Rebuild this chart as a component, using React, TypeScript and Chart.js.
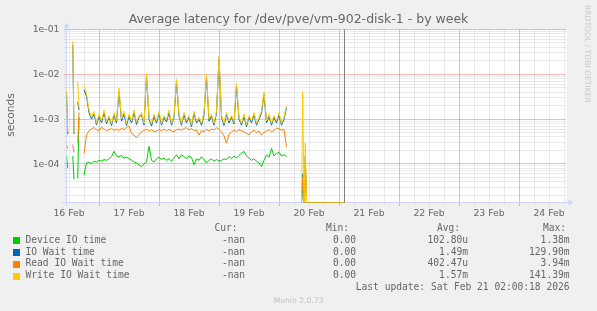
import { useEffect, useRef } from "react";
import { Chart, registerables } from "chart.js";
Chart.register(...registerables);

// ---------- text ----------
const TITLE = "Average latency for /dev/pve/vm-902-disk-1 - by week";
const Y_LABEL = "seconds";
const DAY_LABELS = ["16 Feb", "17 Feb", "18 Feb", "19 Feb", "20 Feb", "21 Feb", "22 Feb", "23 Feb", "24 Feb"];
const Y_TICK_LABELS = ["1e-01", "1e-02", "1e-03", "1e-04"];
const SERIES_NAMES = ["Device IO time", "IO Wait time", "Read IO Wait time", "Write IO Wait time"];
const SERIES_COLORS = ["#00CC00", "#0066B3", "#FF8000", "#FFCC00"];
const LEGEND_HEADERS = ["Cur:", "Min:", "Avg:", "Max:"];
const CUR_VALUES = ["-nan", "-nan", "-nan", "-nan"];
const MIN_VALUES = ["0.00", "0.00", "0.00", "0.00"];
const AVG_VALUES = ["102.80u", "1.49m", "402.47u", "1.57m"];
const MAX_VALUES = ["1.38m", "129.90m", "3.94m", "141.39m"];
const LAST_UPDATE = "Last update: Sat Feb 21 02:00:18 2026";
const VERSION = "Munin 2.0.73";
const WATERMARK = "RRDTOOL / TOBI OETIKER";

// ---------- axes (hours since 16 Feb 00:00) ----------
const Y_MIN = 1.374e-5;
const Y_MAX = 0.1;
const X_MIN_H = 11;
const X_MAX_H = 211;
const NOW_H = 122.3;

// ---------- data ----------
const EARLY_HOURS = [11, 11.5, 12, 13.5, 14, 14.5, 15.5, 16, 16.5];
const EARLY_DEVICE = [1.5e-4, 8e-5, null, 1.5e-4, 4.5e-5, null, 4.7e-5, 1.1e-3, null];
const EARLY_IOWAIT = [3.8e-3, 4.6e-4, null, 4.6e-2, 4.6e-4, null, 2.4e-3, 1.6e-3, null];
const EARLY_READ = [2.6e-4, 2.2e-4, null, 2.7e-4, 1.8e-4, null, 3.0e-4, 1.4e-3, null];
const EARLY_WRITE = [4.5e-3, 5e-4, null, 5.5e-2, 5e-4, null, 7e-3, 1.8e-3, null];

const MAIN_START_H = 18;
const MAIN_STEP_H = 1;
const MAIN_DEVICE = [
  5.6e-5, 1.05e-4, 1.1e-4, 1.0e-4, 1.15e-4, 1.1e-4, 1.2e-4, 1.15e-4, 1.25e-4, 1.2e-4,
  1.3e-4, 1.45e-4, 1.9e-4, 1.5e-4, 1.45e-4, 1.55e-4, 1.35e-4, 1.4e-4, 1.3e-4, 1.2e-4,
  1.1e-4, 1.05e-4, 9.5e-5, 8.7e-5, 1.0e-4, 1.1e-4, 2.45e-4, 1.2e-4, 1.1e-4, 1.3e-4,
  1.4e-4, 1.25e-4, 1.35e-4, 1.2e-4, 1.3e-4, 1.15e-4, 1.35e-4, 1.6e-4, 1.3e-4, 1.6e-4,
  1.45e-4, 1.3e-4, 1.5e-4, 1.4e-4, 9.5e-5, 1.3e-4, 1.2e-4, 1.45e-4, 1.25e-4, 1.05e-4,
  1.2e-4, 1.3e-4, 1.15e-4, 1.25e-4, 1.15e-4, 1.2e-4, 1.3e-4, 1.25e-4, 1.45e-4, 1.3e-4,
  1.5e-4, 1.35e-4, 1.55e-4, 1.75e-4, 1.9e-4, 1.5e-4, 1.35e-4, 1.2e-4, 1.3e-4, 1.15e-4,
  1.05e-4, 8.7e-5, 1.2e-4, 1.6e-4, 1.4e-4, 2.2e-4, 1.5e-4, 1.7e-4, 1.8e-4, 1.5e-4,
  1.6e-4, 1.45e-4,
];
const MAIN_IOWAIT = [
  4.5e-3, 3.2e-3, 1.4e-3, 1.0e-3, 1.3e-3, 7.4e-4, 1.15e-3, 8.2e-4, 1.4e-3, 7.8e-4,
  1.1e-3, 7.2e-4, 1.25e-3, 8.2e-4, 4.2e-3, 9.0e-4, 1.3e-3, 7.2e-4, 1.15e-3, 8.2e-4,
  1.4e-3, 7.6e-4, 1.1e-3, 1.25e-3, 7.4e-4, 9.2e-3, 1.0e-3, 7.0e-4, 1.15e-3, 8.2e-4,
  1.35e-3, 7.3e-4, 1.1e-3, 8.6e-4, 1.4e-3, 7.3e-4, 1.1e-3, 6.8e-3, 1.15e-3, 7.3e-4,
  1.25e-3, 8.2e-4, 1.1e-3, 6.8e-4, 1.35e-3, 8.2e-4, 9.8e-4, 7.3e-4, 1.25e-3, 8.9e-3,
  9.0e-4, 1.15e-3, 7.3e-4, 1.35e-3, 2.2e-2, 1.1e-3, 7.2e-4, 1.25e-3, 8.2e-4, 1.1e-3,
  7.8e-4, 5.6e-3, 1.0e-3, 7.3e-4, 1.15e-3, 6.8e-4, 1.1e-3, 8.2e-4, 1.25e-3, 7.3e-4,
  1.0e-3, 1.35e-3, 3.6e-3, 8.2e-4, 1.15e-3, 7.3e-4, 1.1e-3, 8.2e-4, 1.25e-3, 7.3e-4,
  1.0e-3, 1.8e-3,
];
const MAIN_READ = [
  1.7e-4, 4.4e-4, 5.5e-4, 6.0e-4, 6.5e-4, 5.8e-4, 5.5e-4, 6.6e-4, 6.0e-4, 5.5e-4,
  5.8e-4, 6.2e-4, 5.6e-4, 6.0e-4, 5.5e-4, 6.3e-4, 5.8e-4, 6.5e-4, 7.0e-4, 4.8e-4,
  4.4e-4, 3.8e-4, 4.5e-4, 5.2e-4, 5.6e-4, 6.0e-4, 5.4e-4, 5.8e-4, 5.2e-4, 5.3e-4,
  5.8e-4, 5.5e-4, 6.0e-4, 5.4e-4, 5.9e-4, 5.5e-4, 5.2e-4, 5.8e-4, 6.0e-4, 5.6e-4,
  6.2e-4, 6.4e-4, 5.8e-4, 6.1e-4, 5.5e-4, 5.7e-4, 4.4e-4, 5.5e-4, 5.2e-4, 5.9e-4,
  5.4e-4, 6.0e-4, 5.7e-4, 6.4e-4, 5.9e-4, 5.2e-4, 4.2e-4, 2.9e-4, 4.6e-4, 5.2e-4,
  5.6e-4, 5.3e-4, 5.8e-4, 5.5e-4, 5.2e-4, 4.8e-4, 4.4e-4, 5.2e-4, 5.6e-4, 5.0e-4,
  5.4e-4, 4.4e-4, 5.0e-4, 5.4e-4, 5.8e-4, 5.2e-4, 5.6e-4, 6.3e-4, 6.1e-4, 5.6e-4,
  5.9e-4, 2.4e-4,
];
const MAIN_WRITE = [
  5.7e-3, 3.8e-3, 1.6e-3, 1.1e-3, 1.5e-3, 8.0e-4, 1.3e-3, 9.0e-4, 1.6e-3, 8.5e-4,
  1.2e-3, 7.8e-4, 1.4e-3, 9.0e-4, 4.9e-3, 1.0e-3, 1.5e-3, 8.0e-4, 1.3e-3, 9.0e-4,
  1.6e-3, 8.5e-4, 1.2e-3, 1.4e-3, 8.0e-4, 1.05e-2, 1.1e-3, 7.8e-4, 1.3e-3, 9.0e-4,
  1.5e-3, 8.0e-4, 1.2e-3, 9.5e-4, 1.6e-3, 8.0e-4, 1.2e-3, 7.7e-3, 1.3e-3, 8.0e-4,
  1.4e-3, 9.0e-4, 1.2e-3, 7.5e-4, 1.5e-3, 9.0e-4, 1.1e-3, 8.0e-4, 1.4e-3, 1.0e-2,
  1.0e-3, 1.3e-3, 8.0e-4, 1.5e-3, 2.5e-2, 1.2e-3, 8.0e-4, 1.4e-3, 9.0e-4, 1.2e-3,
  8.5e-4, 6.3e-3, 1.1e-3, 8.0e-4, 1.3e-3, 7.5e-4, 1.2e-3, 9.0e-4, 1.4e-3, 8.0e-4,
  1.1e-3, 1.5e-3, 4.0e-3, 9.0e-4, 1.3e-3, 8.0e-4, 1.2e-3, 9.0e-4, 1.4e-3, 8.0e-4,
  1.1e-3, 2.0e-3,
];
const GAP_H = 100;

const LATE_HOURS = [105, 105.5, 106, 106.5, 107, 122.3];
const LATE_DEVICE = [0, 3e-5, 0, 0, 0, 0];
const LATE_IOWAIT = [0, 6e-5, 0, 1.5e-4, 0, 0];
const LATE_READ = [0, 5e-5, 0, 1.0e-4, 0, 0];
const LATE_WRITE = [0, 4e-3, 0, 2.9e-4, 0, 0];

// ---------- styles ----------
const BG = "#F0F0F0";
const FONT_COLOR = "#666666";
const AXIS_COLOR = "#CFD6F8";
const MINOR_GRID = "rgba(150,150,150,0.38)";
const MAJOR_GRID = "rgba(220,50,50,0.68)";
const SANS = "'DejaVu Sans', sans-serif";
const MONO = "'DejaVu Sans Mono', monospace";

function toPlot(v: number | null) {
  if (v === null) return null;
  return v <= 0 ? Y_MIN : v;
}

function buildPoints(early: (number | null)[], main: number[], late: number[]) {
  const pts: { x: number; y: number | null }[] = [];
  EARLY_HOURS.forEach((h, i) => pts.push({ x: h, y: toPlot(early[i]) }));
  main.forEach((v, i) => pts.push({ x: MAIN_START_H + i * MAIN_STEP_H, y: toPlot(v) }));
  pts.push({ x: GAP_H, y: null });
  LATE_HOURS.forEach((h, i) => pts.push({ x: h, y: toPlot(late[i]) }));
  return pts;
}

const SERIES_POINTS = [
  buildPoints(EARLY_DEVICE, MAIN_DEVICE, LATE_DEVICE),
  buildPoints(EARLY_IOWAIT, MAIN_IOWAIT, LATE_IOWAIT),
  buildPoints(EARLY_READ, MAIN_READ, LATE_READ),
  buildPoints(EARLY_WRITE, MAIN_WRITE, LATE_WRITE),
];

const muninPlugin = {
  id: "muninDecor",
  beforeDraw(chart: any) {
    const ctx = chart.ctx as CanvasRenderingContext2D;
    const { left, right, top, bottom } = chart.chartArea;
    const xs = chart.scales.x;
    const ys = chart.scales.y;
    ctx.save();
    ctx.fillStyle = BG;
    ctx.fillRect(0, 0, chart.width, chart.height);
    ctx.fillStyle = "#FFFFFF";
    ctx.fillRect(left, top, right - left, bottom - top);

    ctx.lineWidth = 1;
    ctx.setLineDash([1, 1]);
    const hLines: { y: number; major: boolean }[] = [];
    for (let e = -5; e <= -1; e++) {
      for (let m = 1; m <= 9; m++) {
        const v = m * Math.pow(10, e);
        if (v < Y_MIN || v > Y_MAX * 1.0001) continue;
        hLines.push({ y: Math.round(ys.getPixelForValue(v) - 0.5) + 0.5, major: m === 1 });
      }
    }
    const vLines: { x: number; major: boolean }[] = [];
    for (let h = 12; h < X_MAX_H; h += 6) {
      vLines.push({ x: Math.round(xs.getPixelForValue(h) - 0.5) + 0.5, major: h % 24 === 0 });
    }
    for (const pass of [false, true]) {
      ctx.strokeStyle = pass ? MAJOR_GRID : MINOR_GRID;
      for (const l of hLines) {
        if (l.major !== pass) continue;
        ctx.beginPath();
        ctx.moveTo(left - 2, l.y);
        ctx.lineTo(right, l.y);
        ctx.stroke();
      }
      for (const l of vLines) {
        if (l.major !== pass) continue;
        ctx.beginPath();
        ctx.moveTo(l.x, bottom + (pass ? 3 : 2));
        ctx.lineTo(l.x, top);
        ctx.stroke();
      }
    }
    ctx.setLineDash([]);

    // axes
    ctx.strokeStyle = AXIS_COLOR;
    ctx.fillStyle = AXIS_COLOR;
    ctx.beginPath();
    ctx.moveTo(left - 4, bottom);
    ctx.lineTo(right + 4, bottom);
    ctx.moveTo(left, bottom + 4);
    ctx.lineTo(left, top - 4);
    ctx.stroke();
    ctx.beginPath();
    ctx.moveTo(right + 2, bottom - 3);
    ctx.lineTo(right + 2, bottom + 3);
    ctx.lineTo(right + 7, bottom);
    ctx.closePath();
    ctx.fill();
    ctx.beginPath();
    ctx.moveTo(left - 3, top - 2);
    ctx.lineTo(left + 3, top - 2);
    ctx.lineTo(left, top - 7);
    ctx.closePath();
    ctx.fill();

    // now line
    const nx = Math.round(xs.getPixelForValue(NOW_H) - 0.5) + 0.5;
    ctx.strokeStyle = "#808080";
    ctx.beginPath();
    ctx.moveTo(nx, top);
    ctx.lineTo(nx, bottom);
    ctx.stroke();

    // title
    ctx.fillStyle = FONT_COLOR;
    ctx.font = `12.5px ${SANS}`;
    ctx.textAlign = "center";
    ctx.textBaseline = "alphabetic";
    ctx.fillText(TITLE, chart.width / 2, 23);

    // y label
    ctx.save();
    ctx.translate(11, (top + bottom) / 2 - 1);
    ctx.rotate(-Math.PI / 2);
    ctx.font = `10.7px ${SANS}`;
    ctx.textAlign = "center";
    ctx.textBaseline = "middle";
    ctx.fillText(Y_LABEL, 0, 0);
    ctx.restore();

    // y ticks
    ctx.font = `9.3px ${SANS}`;
    ctx.textAlign = "right";
    ctx.textBaseline = "middle";
    Y_TICK_LABELS.forEach((lab, i) => {
      const y = ys.getPixelForValue(Math.pow(10, -(i + 1)));
      ctx.fillText(lab, left - 7, y + 0.5);
    });

    // x ticks
    ctx.textAlign = "center";
    ctx.textBaseline = "alphabetic";
    DAY_LABELS.forEach((lab, i) => {
      const x = xs.getPixelForValue(12 + 24 * i);
      ctx.fillText(lab, x, 215.5);
    });

    // legend
    ctx.font = `9.6px ${MONO}`;
    ctx.textBaseline = "middle";
    const rowY = (k: number) => 228.4 + 11.8 * k;
    const headerRight = [237.5, 349, 460, 566];
    const valueRight = [245, 356, 468, 569.5];
    ctx.textAlign = "right";
    LEGEND_HEADERS.forEach((h, i) => ctx.fillText(h, headerRight[i], rowY(0)));
    SERIES_NAMES.forEach((name, i) => {
      const y = rowY(i + 1);
      ctx.fillStyle = SERIES_COLORS[i];
      ctx.fillRect(13, Math.round(y) - 3, 7, 7);
      ctx.fillStyle = FONT_COLOR;
      ctx.textAlign = "left";
      ctx.fillText(name, 25.5, y);
      ctx.textAlign = "right";
      const vals = [CUR_VALUES[i], MIN_VALUES[i], AVG_VALUES[i], MAX_VALUES[i]];
      vals.forEach((v, j) => ctx.fillText(v, valueRight[j], y));
    });
    ctx.fillText(LAST_UPDATE, 569.5, rowY(5));

    // watermarks
    ctx.fillStyle = "#C0C0C0";
    ctx.font = `7.6px ${SANS}`;
    ctx.textAlign = "center";
    ctx.fillText(VERSION, chart.width / 2, 300.7);
    ctx.save();
    ctx.translate(586.7, 5);
    ctx.rotate(Math.PI / 2);
    ctx.fillStyle = "#C8C8C8";
    ctx.textAlign = "left";
    ctx.textBaseline = "middle";
    ctx.fillText(WATERMARK, 0, 0);
    ctx.restore();

    ctx.restore();
  },
};

export default function App() {
  const ref = useRef<HTMLCanvasElement>(null);
  useEffect(() => {
    const canvas = ref.current;
    if (!canvas) return;
    const chart = new Chart(canvas, {
      type: "line",
      data: {
        datasets: SERIES_NAMES.map((name, i) => ({
          label: name,
          data: SERIES_POINTS[i] as any,
          borderColor: SERIES_COLORS[i],
          backgroundColor: SERIES_COLORS[i],
          borderWidth: 1,
          pointRadius: 0,
          pointHoverRadius: 0,
          tension: 0,
          spanGaps: false,
          fill: false,
          order: SERIES_NAMES.length - 1 - i,
        })),
      },
      options: {
        animation: false,
        responsive: false,
        maintainAspectRatio: false,
        devicePixelRatio: 1,
        events: [],
        layout: { padding: { left: 66.5, right: 30.5, top: 29.5, bottom: 108.5 } },
        plugins: { legend: { display: false }, tooltip: { enabled: false }, title: { display: false } },
        scales: {
          x: { type: "linear", min: X_MIN_H, max: X_MAX_H, display: false },
          y: { type: "logarithmic", min: Y_MIN, max: Y_MAX, display: false },
        },
      },
      plugins: [muninPlugin],
    });
    return () => chart.destroy();
  }, []);
  return (
    <div style={{ position: "fixed", left: 0, top: 0, width: 597, height: 311, background: BG }}>
      <canvas ref={ref} width={597} height={311} style={{ display: "block", width: 597, height: 311 }} />
    </div>
  );
}
